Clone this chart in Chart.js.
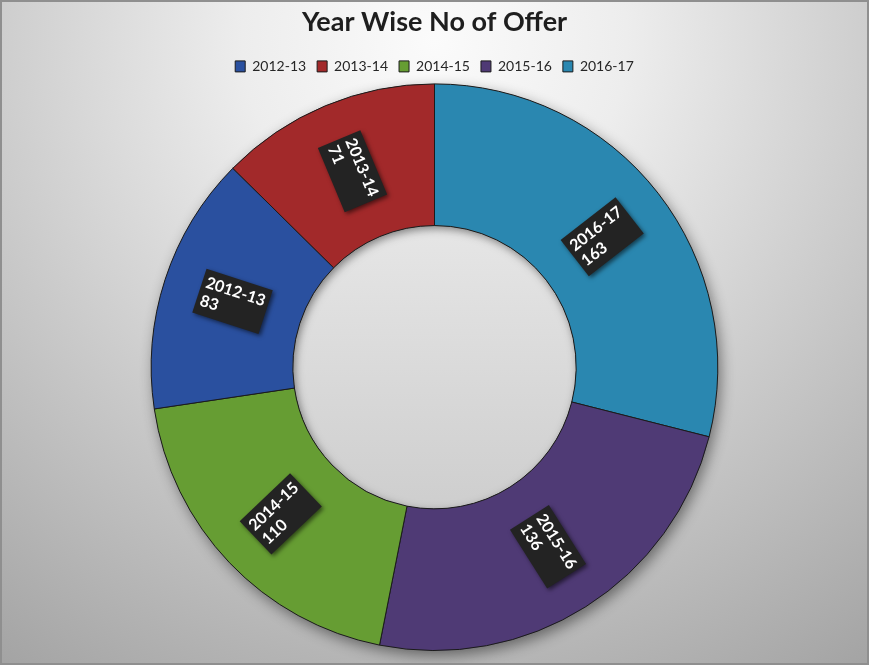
<!DOCTYPE html>
<html>
<head>
<meta charset="utf-8">
<title>Year Wise No of Offer</title>
<script src="https://cdn.jsdelivr.net/npm/chart.js@4.4.1/dist/chart.umd.min.js"></script>
<style>
  html, body { margin: 0; padding: 0; background: #fff; }
  #wrap { position: relative; width: 869px; height: 665px; }
</style>
</head>
<body>
<div id="wrap"><canvas id="offerChart"></canvas></div>
<script>
// Offers per year, listed in the order the slices run clockwise from 12 o'clock
const YEARS = ['2016-17', '2015-16', '2014-15', '2012-13', '2013-14'];
const OFFERS = [163, 136, 110, 83, 71];

// slice colours by year
const YEAR_COLORS = {
  '2012-13': '#2A509F',
  '2013-14': '#A2292A',
  '2014-15': '#669D33',
  '2015-16': '#4F3A75',
  '2016-17': '#2A87B0'
};

const FONT = 'Lato, "Liberation Sans", sans-serif';

// grey radial background + frame
const backdrop = {
  id: 'backdrop',
  beforeDraw(chart) {
    const { ctx, width, height } = chart;
    ctx.save();
    const g = ctx.createRadialGradient(width / 2, 40, 0, width / 2, 40, 770);
    g.addColorStop(0, '#fbfbfb');
    g.addColorStop(0.25, '#ededed');
    g.addColorStop(1, '#a2a2a2');
    ctx.fillStyle = g;
    ctx.fillRect(0, 0, width, height);
    ctx.restore();
  },
  afterDraw(chart) {
    const { ctx, width, height } = chart;
    ctx.save();
    ctx.strokeStyle = '#8f8f8f';
    ctx.lineWidth = 2;
    ctx.strokeRect(1, 1, width - 2, height - 2);
    ctx.restore();
  }
};

// drop shadow under the ring and a shaded hole in the middle
const ringShade = {
  id: 'ringShade',
  beforeDatasetsDraw(chart) {
    const arc = chart.getDatasetMeta(0).data[0];
    if (!arc) return;
    const p = arc.getProps(['x', 'y', 'innerRadius', 'outerRadius'], true);
    const ctx = chart.ctx;
    ctx.save();
    ctx.shadowColor = 'rgba(0,0,0,0.45)';
    ctx.shadowBlur = 14;
    ctx.shadowOffsetX = 3;
    ctx.shadowOffsetY = 5;
    ctx.fillStyle = '#777';
    ctx.beginPath();
    ctx.arc(p.x, p.y, p.outerRadius, 0, Math.PI * 2);
    ctx.fill();
    ctx.restore();

    // hole
    ctx.save();
    ctx.beginPath();
    ctx.arc(p.x, p.y, p.innerRadius, 0, Math.PI * 2);
    ctx.clip();
    const g = ctx.createLinearGradient(0, p.y - p.innerRadius, 0, p.y + p.innerRadius);
    g.addColorStop(0, '#e6e6e6');
    g.addColorStop(1, '#cecece');
    ctx.fillStyle = g;
    ctx.fillRect(p.x - p.innerRadius, p.y - p.innerRadius, p.innerRadius * 2, p.innerRadius * 2);
    // inner shadow
    ctx.shadowColor = 'rgba(0,0,0,0.45)';
    ctx.shadowBlur = 9;
    ctx.shadowOffsetX = 2;
    ctx.shadowOffsetY = 3;
    ctx.fillStyle = '#000';
    ctx.beginPath();
    ctx.arc(p.x, p.y, p.innerRadius + 60, 0, Math.PI * 2);
    ctx.arc(p.x, p.y, p.innerRadius, 0, Math.PI * 2, true);
    ctx.fill();
    ctx.restore();
  }
};

// black rotated boxes with "year / value"
const sliceLabels = {
  id: 'sliceLabels',
  afterDatasetsDraw(chart) {
    const ctx = chart.ctx;
    const meta = chart.getDatasetMeta(0);
    const ds = chart.data.datasets[0];
    ctx.save();
    ctx.font = 'bold 16px ' + FONT;
    meta.data.forEach((arc, i) => {
      const p = arc.getProps(['x', 'y', 'startAngle', 'endAngle', 'innerRadius', 'outerRadius'], true);
      const mid = (p.startAngle + p.endAngle) / 2;
      const r = (p.innerRadius + p.outerRadius) / 2;
      const cx = p.x + Math.cos(mid) * r;
      const cy = p.y + Math.sin(mid) * r;
      let rot = mid;
      if (Math.cos(mid) < 0) rot += Math.PI;   // keep text readable on the left side

      const lines = [chart.data.labels[i], String(ds.data[i])];
      const lh = 19, pad = 4;
      const w = Math.max(...lines.map(t => ctx.measureText(t).width)) + pad * 2;
      const h = lines.length * lh + pad * 2;

      ctx.save();
      ctx.translate(cx, cy);
      ctx.rotate(rot);
      ctx.shadowColor = 'rgba(0,0,0,0.55)';
      ctx.shadowBlur = 4;
      ctx.shadowOffsetX = 2;
      ctx.shadowOffsetY = 2;
      ctx.fillStyle = '#232323';
      ctx.fillRect(-w / 2, -h / 2, w, h);
      ctx.shadowColor = 'transparent';
      ctx.fillStyle = '#fff';
      ctx.textBaseline = 'top';
      lines.forEach((t, k) => ctx.fillText(t, -w / 2 + pad, -h / 2 + pad + 1 + k * lh));
      ctx.restore();
    });
    ctx.restore();
  }
};

new Chart(document.getElementById('offerChart'), {
  type: 'doughnut',
  data: {
    labels: YEARS,
    datasets: [{
      data: OFFERS,
      backgroundColor: YEARS.map(y => YEAR_COLORS[y]),
      borderColor: '#1b1b1b',
      borderWidth: 1
    }]
  },
  options: {
    responsive: true,
    maintainAspectRatio: false,
    animation: false,
    cutout: '50%',
    layout: { padding: { top: 4, bottom: 14 } },
    plugins: {
      title: {
        display: true,
        text: 'Year Wise No of Offer',
        color: '#1e1e1e',
        font: { family: FONT, size: 27, weight: 'bold' },
        padding: { top: 2, bottom: 10 }
      },
      legend: {
        position: 'top',
        labels: {
          color: '#262626',
          font: { family: FONT, size: 14 },
          boxWidth: 10,
          boxHeight: 11,
          padding: 11,
          // legend lists the years in calendar order
          sort: (a, b) => a.text.localeCompare(b.text)
        }
      },
      tooltip: { enabled: false }
    }
  },
  plugins: [backdrop, ringShade, sliceLabels]
});
</script>
</body>
</html>
